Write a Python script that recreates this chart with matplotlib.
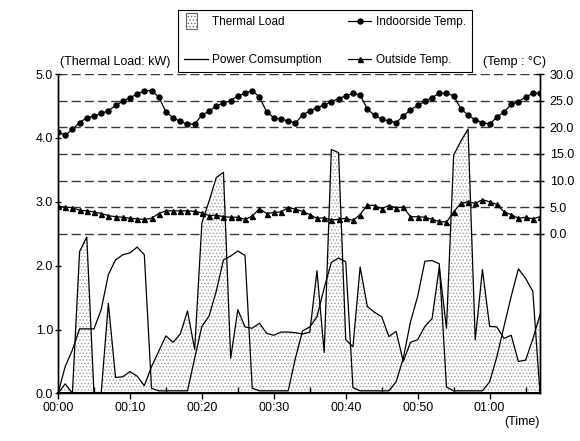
import matplotlib.pyplot as plt
import numpy as np
from matplotlib.ticker import MultipleLocator, FuncFormatter
from matplotlib.patches import Patch, Rectangle
from matplotlib.lines import Line2D
from matplotlib.legend_handler import HandlerPatch

plt.rcParams['font.family'] = ['Liberation Sans', 'DejaVu Sans']
plt.rcParams['font.size'] = 9
plt.rcParams['hatch.color'] = '#a0a0a0'
plt.rcParams['hatch.linewidth'] = 0.6

# minutes from 00:00, one sample per minute
minutes = np.arange(68)

thermal_load = [0, 0.15, 0, 2.22, 2.45, 0, 0, 1.41, 0.25, 0.26, 0.34, 0.27, 0.12, 0.42,
                0.66, 0.90, 0.80, 0.93, 1.29, 0.69, 2.67, 3.01, 3.38, 3.46, 0.55, 1.31,
                1.04, 1.02, 1.10, 0.94, 0.91, 0.96, 0.96, 0.95, 0.93, 0.96, 1.92, 0.64,
                3.82, 3.77, 0.84, 0.73, 1.98, 1.36, 1.27, 1.20, 0.89, 0.97, 0.50, 0.80,
                0.84, 1.05, 1.17, 1.98, 1.02, 3.73, 3.95, 4.14, 0.84, 1.94, 1.05, 1.04,
                0.86, 0.91, 0.50, 0.52, 0.85, 1.23]

power = [0, 0.42, 0.68, 1.01, 1.01, 1.01, 1.31, 1.86, 2.09, 2.17, 2.20, 2.29, 2.17, 0.08,
         0.04, 0.04, 0.04, 0.04, 0.04, 0.55, 1.05, 1.21, 1.60, 2.09, 2.15, 2.23, 2.16,
         0.08, 0.04, 0.04, 0.04, 0.04, 0.04, 0.55, 0.98, 1.04, 1.20, 1.65, 2.05, 2.12,
         2.06, 0.09, 0.04, 0.04, 0.04, 0.04, 0.04, 0.18, 0.55, 1.12, 1.52, 2.07, 2.08,
         2.03, 0.10, 0.04, 0.04, 0.04, 0.04, 0.04, 0.18, 0.57, 1.05, 1.52, 1.95, 1.80,
         1.60, 0]

indoor = [19.1, 18.5, 19.6, 20.9, 21.8, 22.1, 22.6, 23.1, 24.1, 24.9, 25.6, 26.2, 26.9,
          26.9, 25.7, 22.9, 21.8, 21.1, 20.6, 20.6, 22.3, 23.0, 24.0, 24.6, 25.0, 25.9,
          26.4, 26.9, 25.7, 22.9, 21.8, 21.5, 21.2, 20.8, 22.3, 23.1, 23.7, 24.2, 24.8,
          25.4, 25.9, 26.4, 26.1, 23.4, 22.3, 21.5, 21.2, 20.9, 22.1, 23.3, 24.1, 24.9,
          25.6, 26.4, 26.4, 25.9, 23.5, 22.3, 21.4, 20.9, 20.6, 21.9, 22.9, 24.3, 24.8,
          25.7, 26.4, 26.4]

outside = [5.2, 5.0, 4.9, 4.4, 4.3, 4.1, 3.8, 3.4, 3.2, 3.1, 2.9, 2.8, 2.7, 2.9, 3.8, 4.3,
           4.3, 4.3, 4.3, 4.2, 3.9, 3.4, 3.5, 3.2, 3.1, 3.1, 2.7, 3.3, 4.7, 3.8, 4.0, 4.1,
           4.9, 4.6, 4.2, 3.6, 2.9, 3.0, 2.6, 2.7, 2.9, 2.5, 3.6, 5.4, 5.3, 4.7, 5.3, 4.9,
           5.0, 3.2, 3.2, 3.1, 2.7, 2.3, 2.2, 4.1, 5.7, 6.0, 5.7, 6.4, 6.0, 5.5, 4.1, 3.6,
           2.9, 3.1, 2.8, 3.2]

temp_grid = [0, 5, 10, 15, 20, 25, 30]

fig = plt.figure(figsize=(5.8, 4.41), dpi=100)
ax = fig.add_axes([0.1, 0.108, 0.831, 0.724])
ax2 = ax.twinx()

ax.set_xlim(0, 67)
ax.set_ylim(0, 5)
ax2.set_ylim(-30, 30)

# dashed grid at the temperature ticks, drawn under the area
for t in temp_grid:
    ax.axhline(2.5 + t / 12, color='#3a3a3a', lw=1.0, dashes=(6.5, 3), zorder=0.5)

ax.fill_between(minutes, thermal_load, 0, facecolor='white', hatch='.....',
                edgecolor='#a0a0a0', lw=0, zorder=1)
ax.plot(minutes, thermal_load, color='black', lw=0.9, zorder=2)
ax.plot(minutes, power, color='black', lw=0.9, zorder=3)

ax2.plot(minutes, indoor, color='black', lw=0.9, marker='o', ms=3.6)
ax2.plot(minutes, outside, color='black', lw=0.9, marker='^', ms=3.6)

ax.yaxis.set_major_locator(MultipleLocator(1))
ax.yaxis.set_major_formatter(FuncFormatter(lambda v, p: f'{v:.1f}'))
ax.xaxis.set_major_locator(MultipleLocator(10))
ax.xaxis.set_minor_locator(MultipleLocator(5))
ax.xaxis.set_major_formatter(FuncFormatter(lambda m, p: f'{int(m) // 60:02d}:{int(m) % 60:02d}'))
ax2.set_yticks(temp_grid)
ax2.yaxis.set_major_formatter(FuncFormatter(lambda v, p: f'{v:.1f}'))

for a in (ax, ax2):
    for s in a.spines.values():
        s.set_linewidth(1.0)
    a.spines['top'].set_visible(False)
ax.spines['bottom'].set_linewidth(1.5)
ax.tick_params(axis='x', which='major', length=4, width=1, pad=2)
ax.tick_params(axis='x', which='minor', direction='in', length=4, width=1)
ax.tick_params(axis='y', direction='inout', length=5, width=1, pad=1)
ax2.tick_params(axis='y', direction='inout', length=6, width=1, pad=4)

ax.text(0.005, 1.02, '(Thermal Load: kW)', transform=ax.transAxes, ha='left', va='bottom')
ax.text(1.012, 1.02, '(Temp : \u00b0C)', transform=ax.transAxes, ha='right', va='bottom')
ax.text(1.0, -0.07, '(Time)', transform=ax.transAxes, ha='right', va='top')


def narrow_patch(legend, orig_handle, xdescent, ydescent, width, height, fontsize):
    return Rectangle((-xdescent + 0.1 * width, -ydescent - 0.45 * height),
                     0.45 * width, 1.9 * height)


handles = [Patch(facecolor='white', edgecolor='#666666', hatch='.....', lw=0.8),
           Line2D([], [], color='black', lw=0.9),
           Line2D([], [], color='black', lw=0.9, marker='o', ms=3.6),
           Line2D([], [], color='black', lw=0.9, marker='^', ms=3.6)]
labels = ['Thermal Load', 'Power Comsumption', 'Indoorside Temp.', 'Outside Temp.']
leg = fig.legend(handles, labels, ncol=2, loc='lower left', fontsize=8.5,
                 bbox_to_anchor=(0.307, 0.837, 0.507, 0.15), mode='expand',
                 frameon=True, fancybox=False, edgecolor='black', framealpha=1,
                 handlelength=2.0, handletextpad=0.4, columnspacing=0.3,
                 borderaxespad=0, borderpad=0.5, labelspacing=2.2,
                 handler_map={Patch: HandlerPatch(patch_func=narrow_patch)})
leg.get_frame().set_linewidth(0.8)

fig.savefig('out.png', dpi=100)
